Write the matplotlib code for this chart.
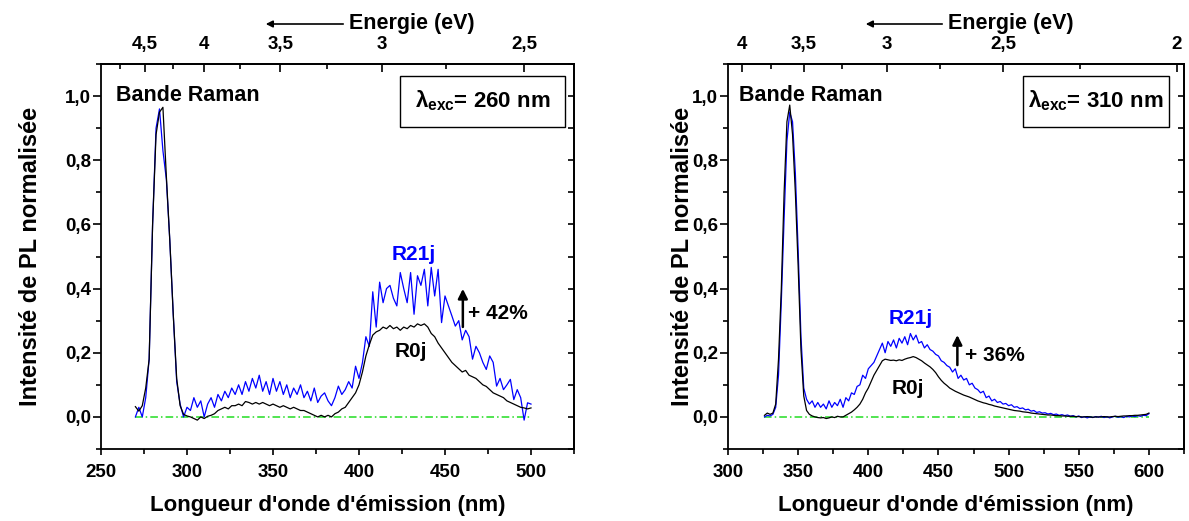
import numpy as np
import matplotlib
matplotlib.use("Agg")
import matplotlib.pyplot as plt
from matplotlib.patches import Rectangle, FancyArrowPatch
from matplotlib.ticker import MultipleLocator, FixedLocator, FuncFormatter

plt.rcParams["font.family"] = ["Liberation Sans", "DejaVu Sans"]
plt.rcParams["font.weight"] = "bold"
plt.rcParams["axes.labelweight"] = "bold"
plt.rcParams["mathtext.fontset"] = "custom"
plt.rcParams["mathtext.rm"] = "Liberation Sans:bold"
plt.rcParams["mathtext.it"] = "Liberation Sans:bold"
plt.rcParams["mathtext.bf"] = "Liberation Sans:bold"
plt.rcParams["axes.linewidth"] = 1.3

# --- excitation 260 nm : 270 -> 500 nm, step 2 nm ---
wl_260 = np.arange(270, 501, 2)
r0j_260 = [
    0.032, 0.018, 0.035, 0.09, 0.18, 0.60, 0.88, 0.95, 0.965, 0.75,
    0.55, 0.32, 0.12, 0.035, 0.008, 0.003, 0.0, -0.005, -0.01, 0.0,
    -0.005, 0.002, 0.005, 0.01, 0.02, 0.025, 0.03, 0.025, 0.035, 0.035,
    0.04, 0.035, 0.048, 0.045, 0.04, 0.045, 0.04, 0.045, 0.04, 0.035,
    0.04, 0.035, 0.03, 0.035, 0.03, 0.025, 0.03, 0.025, 0.02, 0.02,
    0.015, 0.01, 0.005, 0.0, 0.005, 0.0, 0.005, 0.0, 0.01, 0.015,
    0.025, 0.03, 0.045, 0.06, 0.075, 0.10, 0.14, 0.19, 0.225, 0.255,
    0.265, 0.27, 0.28, 0.275, 0.285, 0.275, 0.28, 0.27, 0.28, 0.275,
    0.285, 0.28, 0.29, 0.285, 0.29, 0.28, 0.26, 0.25, 0.23, 0.215,
    0.20, 0.185, 0.17, 0.16, 0.15, 0.14, 0.145, 0.13, 0.125, 0.12,
    0.11, 0.10, 0.095, 0.085, 0.075, 0.07, 0.065, 0.06, 0.05, 0.045,
    0.04, 0.035, 0.03, 0.028, 0.025, 0.028,
]
r21j_260 = [
    0.0, 0.03, 0.0, 0.06, 0.18, 0.60, 0.90, 0.96, 0.83, 0.74,
    0.55, 0.32, 0.11, 0.04, 0.0, 0.03, 0.02, 0.06, 0.03, 0.05,
    0.0, 0.04, 0.06, 0.03, 0.07, 0.05, 0.08, 0.06, 0.09, 0.07,
    0.10, 0.07, 0.11, 0.08, 0.12, 0.09, 0.13, 0.08, 0.11, 0.07,
    0.12, 0.08, 0.11, 0.07, 0.10, 0.06, 0.09, 0.07, 0.10, 0.06,
    0.08, 0.05, 0.09, 0.045, 0.065, 0.075, 0.05, 0.035, 0.06, 0.096,
    0.07, 0.085, 0.11, 0.09, 0.158, 0.12, 0.169, 0.25, 0.22, 0.39,
    0.28, 0.42, 0.356, 0.40, 0.41, 0.37, 0.346, 0.45, 0.40, 0.356,
    0.45, 0.32, 0.44, 0.41, 0.46, 0.346, 0.466, 0.377, 0.46, 0.294,
    0.377, 0.346, 0.315, 0.283, 0.30, 0.24, 0.27, 0.25, 0.18, 0.22,
    0.20, 0.17, 0.148, 0.19, 0.17, 0.096, 0.12, 0.085, 0.10, 0.117,
    0.054, 0.085, 0.06, -0.01, 0.044, 0.04,
]

# --- excitation 310 nm : 326 -> 600 nm, step 2 nm ---
wl_310 = np.arange(326, 601, 2)
r0j_310 = [
    0.005, 0.012, 0.008, 0.012, 0.04, 0.18, 0.40, 0.70, 0.92, 0.972,
    0.88, 0.70, 0.47, 0.21, 0.065, 0.02, 0.008, 0.003, 0.0, -0.002,
    -0.003, -0.002, -0.005, -0.003, 0.0, -0.002, 0.002, 0.0, 0.0, 0.005,
    0.01, 0.015, 0.022, 0.03, 0.04, 0.055, 0.075, 0.09, 0.11, 0.13,
    0.145, 0.16, 0.175, 0.18, 0.178, 0.176, 0.177, 0.175, 0.178, 0.176,
    0.18, 0.183, 0.185, 0.188, 0.185, 0.18, 0.175, 0.168, 0.162, 0.156,
    0.148, 0.138, 0.125, 0.114, 0.105, 0.098, 0.09, 0.085, 0.08, 0.076,
    0.072, 0.068, 0.065, 0.062, 0.058, 0.054, 0.05, 0.047, 0.044, 0.042,
    0.039, 0.037, 0.034, 0.032, 0.03, 0.028, 0.026, 0.024, 0.022, 0.02,
    0.019, 0.018, 0.016, 0.015, 0.014, 0.012, 0.011, 0.01, 0.009, 0.008,
    0.007, 0.006, 0.006, 0.005, 0.004, 0.004, 0.003, 0.003, 0.002, 0.002,
    0.002, 0.001, 0.001, 0.0, 0.0, 0.001, 0.0, -0.001, 0.0, 0.0,
    0.0, 0.001, 0.0, 0.0, 0.001, 0.002, 0.001, 0.002, 0.003, 0.003,
    0.004, 0.004, 0.005, 0.005, 0.006, 0.007, 0.008, 0.012,
]
r21j_310 = [
    0.0, 0.005, 0.003, 0.008, 0.03, 0.13, 0.36, 0.62, 0.86, 0.95,
    0.92, 0.76, 0.52, 0.25, 0.09, 0.055, 0.04, 0.05, 0.03, 0.045,
    0.03, 0.04, 0.025, 0.05, 0.03, 0.045, 0.035, 0.055, 0.03, 0.06,
    0.05, 0.075, 0.07, 0.095, 0.10, 0.13, 0.12, 0.15, 0.16, 0.17,
    0.19, 0.21, 0.23, 0.20, 0.235, 0.22, 0.24, 0.215, 0.245, 0.23,
    0.25, 0.225, 0.26, 0.24, 0.255, 0.23, 0.235, 0.215, 0.225, 0.21,
    0.205, 0.195, 0.19, 0.175, 0.17, 0.16, 0.155, 0.14, 0.15, 0.12,
    0.13, 0.115, 0.12, 0.10, 0.105, 0.09, 0.085, 0.075, 0.08, 0.06,
    0.065, 0.05, 0.055, 0.045, 0.048, 0.04, 0.042, 0.035, 0.038, 0.03,
    0.032, 0.026, 0.028, 0.022, 0.024, 0.018, 0.02, 0.014, 0.016, 0.012,
    0.013, 0.009, 0.011, 0.007, 0.009, 0.005, 0.007, 0.004, 0.006, 0.002,
    0.004, 0.0, 0.003, -0.002, 0.001, -0.003, 0.0, -0.002, 0.001, -0.001,
    0.002, -0.002, 0.001, -0.003, 0.0, 0.002, -0.001, 0.001, -0.002, 0.002,
    0.0, 0.003, 0.001, 0.004, 0.002, 0.005, 0.004, 0.01,
]

ev_major_260 = [4.5, 4.0, 3.5, 3.0, 2.5]
ev_major_310 = [4.0, 3.5, 3.0, 2.5, 2.0]
ev_minor = [4.75, 4.25, 3.75, 3.25, 2.75, 2.25]


def nm_to_ev(x):
    x = np.asarray(x, dtype=float)
    with np.errstate(divide="ignore"):
        return 1239.84 / x


def comma1(v, pos):
    if abs(v) < 1e-9:
        v = 0.0
    return f"{v:.1f}".replace(".", ",")


def comma_g(v, pos):
    return f"{v:g}".replace(".", ",")


def panel(ax, wl, black, blue, xlim, ev_major, lam, pct, pos):
    ax.hlines(0, wl[0], wl[-1], colors="#22dd22", linestyles=(0, (5, 2, 1, 2)), lw=1.1, zorder=1)
    ax.plot(wl, blue, color="#0000ff", lw=0.9, zorder=2)
    ax.plot(wl, black, color="black", lw=0.9, zorder=3)

    ax.set_xlim(xlim)
    ax.set_ylim(-0.1, 1.1)
    ax.xaxis.set_major_locator(MultipleLocator(50))
    ax.xaxis.set_minor_locator(MultipleLocator(25))
    ax.yaxis.set_major_locator(MultipleLocator(0.2))
    ax.yaxis.set_minor_locator(MultipleLocator(0.1))
    ax.yaxis.set_major_formatter(FuncFormatter(comma1))
    ax.tick_params(axis="x", which="major", direction="out", length=4.5, width=1.2, pad=6, labelsize=13.5, top=False)
    ax.tick_params(axis="x", which="minor", direction="out", length=3.5, width=1.2, top=False)
    ax.tick_params(axis="y", which="major", direction="out", length=5.5, width=1.2, pad=1.5, labelsize=13.5, right=False)
    ax.tick_params(axis="y", which="minor", direction="out", length=3.5, width=1.2, right=False)

    # right side ticks pointing inside, no labels
    ry = ax.secondary_yaxis("right")
    ry.yaxis.set_major_locator(MultipleLocator(0.1))
    ry.tick_params(direction="in", length=4, width=1.2, labelright=False)
    ry.spines["right"].set_linewidth(1.3)

    # energy axis on top
    top = ax.secondary_xaxis("top", functions=(nm_to_ev, nm_to_ev))
    top.xaxis.set_major_locator(FixedLocator(ev_major))
    top.xaxis.set_minor_locator(FixedLocator(ev_minor))
    top.xaxis.set_major_formatter(FuncFormatter(comma_g))
    top.tick_params(which="major", direction="in", length=6, width=1.2, pad=8, labelsize=13.5)
    top.tick_params(which="minor", direction="in", length=3.5, width=1.2)
    top.spines["top"].set_linewidth(1.3)

    ax.set_xlabel("Longueur d'onde d'émission (nm)", fontsize=16, fontweight="bold")
    ax.set_ylabel("Intensité de PL normalisée", fontsize=17, fontweight="bold")
    ax.xaxis.set_label_coords(pos["xlab"], -0.12)
    ax.yaxis.set_label_coords(pos["ylab"], 0.5)

    ax.text(pos["raman"], 0.917, "Bande Raman", transform=ax.transAxes, fontsize=15.5, va="center", ha="left")

    bx0, bx1 = pos["box"]
    ax.add_patch(Rectangle((bx0, 0.836), bx1 - bx0, 0.133, transform=ax.transAxes,
                           facecolor="white", edgecolor="black", lw=1.0, zorder=5))
    ax.text((bx0 + bx1) / 2, 0.905, r"$\lambda_{\mathrm{exc}}$" + f"= {lam} nm", transform=ax.transAxes,
            fontsize=16, ha="center", va="center", zorder=6)

    ax.text(*pos["r21"], "R21j", color="#0000ff", transform=ax.transAxes, fontsize=15, ha="center", va="center")
    ax.text(*pos["r0"], "R0j", color="black", transform=ax.transAxes, fontsize=15, ha="center", va="center")
    ax.text(*pos["pct"], f"+ {pct}%", transform=ax.transAxes, fontsize=15, ha="left", va="center")
    ax.annotate("", xy=pos["arr_head"], xytext=pos["arr_tail"], xycoords="axes fraction",
                arrowprops=dict(arrowstyle="-|>", lw=1.8, color="black", mutation_scale=14, shrinkA=0, shrinkB=0))


fig = plt.figure(figsize=(11.89, 5.21), dpi=100)
ax1 = fig.add_axes([101 / 1189, 1 - 449 / 521, 473 / 1189, 385 / 521])
ax2 = fig.add_axes([728 / 1189, 1 - 449 / 521, 456 / 1189, 385 / 521])

panel(ax1, wl_260, r0j_260, r21j_260, (250, 525), ev_major_260, 260, 42,
      dict(xlab=0.48, ylab=-0.125, raman=0.032, box=(0.632, 0.981),
           r21=(0.662, 0.506), r0=(0.655, 0.252), pct=(0.776, 0.351),
           arr_head=(0.765, 0.416), arr_tail=(0.765, 0.317)))
panel(ax2, wl_310, r0j_310, r21j_310, (300, 625), ev_major_310, 310, 36,
      dict(xlab=0.5, ylab=-0.075, raman=0.024, box=(0.647, 0.967),
           r21=(0.400, 0.339), r0=(0.394, 0.156), pct=(0.520, 0.244),
           arr_head=(0.503, 0.296), arr_tail=(0.503, 0.218)))

# "Energie (eV)" titles with left arrows
for head, tail in [(263, 346), (863, 945)]:
    fig.text((tail + 3) / 1189, 1 - 24 / 521, "Energie (eV)", fontsize=15.5, ha="left", va="center")
    fig.add_artist(FancyArrowPatch(
        (tail / 1189, 1 - 24 / 521), (head / 1189, 1 - 24 / 521), transform=fig.transFigure,
        arrowstyle="-|>", mutation_scale=10, lw=1.2, color="black"))

fig.savefig("out.png", dpi=100)
